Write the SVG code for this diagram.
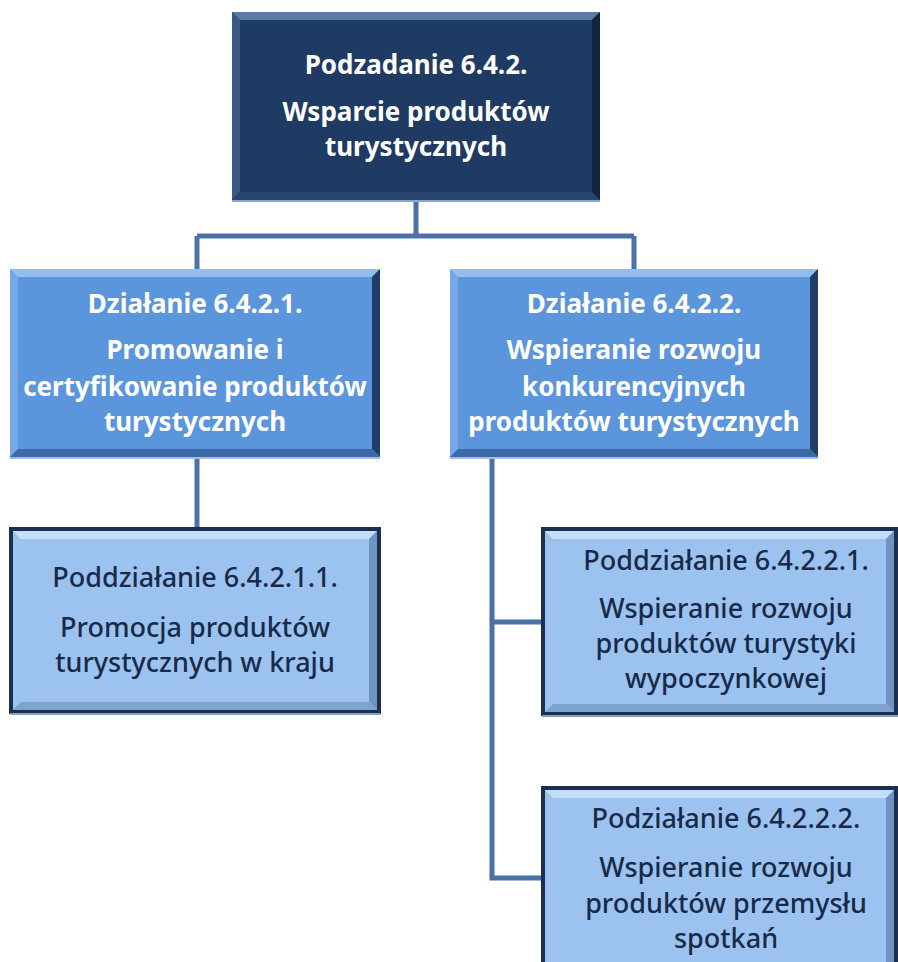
<svg xmlns="http://www.w3.org/2000/svg" width="898" height="962" viewBox="0 0 898 962">
<style>
.conn{fill:none;stroke:#4a72a8;stroke-width:5;stroke-linejoin:miter}
.t{font-family:"Noto Sans","Open Sans","Liberation Sans",sans-serif;text-anchor:middle}
.w{fill:#ffffff;font-weight:bold;font-size:26px}
.d{fill:#182a48;font-size:27px;font-weight:500}
</style>
<rect width="898" height="962" fill="#ffffff"/>
<g id="connectors">
<path class="conn" d="M416,200 V238"/>
<path class="conn" d="M197,236 H634"/>
<path class="conn" d="M197,236 V270"/>
<path class="conn" d="M634,236 V270"/>
<path class="conn" d="M197,457 V528"/>
<path class="conn" d="M492,457 V878 H543"/>
<path class="conn" d="M492,622 H543"/>
</g>
<g id="n1">
<rect x="232" y="12" width="368" height="188" fill="#1f3a63"/>
<polygon points="232,12 600,12 592,20 240,20" fill="#5a7aa8"/>
<polygon points="232,12 240,20 240,192 232,200" fill="#3b5986"/>
<polygon points="600,12 600,200 592,192 592,20" fill="#112440"/>
<polygon points="232,200 600,200 592,192 240,192" fill="#2a4670"/>
<line x1="232" y1="201" x2="600" y2="201" stroke="#8aa6cc" stroke-width="2"/>
<text class="t w" x="416" y="74">Podzadanie 6.4.2.</text>
<text class="t w" x="416" y="121">Wsparcie produktów</text>
<text class="t w" x="416" y="156">turystycznych</text>
</g>
<g id="n2">
<rect x="10" y="269" width="370" height="188" fill="#5b96dc"/>
<polygon points="10,269 380,269 372,277 18,277" fill="#94bdf0"/>
<polygon points="10,269 18,277 18,449 10,457" fill="#76a8e8"/>
<polygon points="380,269 380,457 372,449 372,277" fill="#1f3d66"/>
<polygon points="10,457 380,457 372,449 18,449" fill="#3c6aa4"/>
<line x1="10" y1="458" x2="380" y2="458" stroke="#9cbde6" stroke-width="2"/>
<text class="t w" x="195" y="313">Działanie 6.4.2.1.</text>
<text class="t w" x="195" y="359">Promowanie i</text>
<text class="t w" x="195" y="396">certyfikowanie produktów</text>
<text class="t w" x="195" y="431">turystycznych</text>
</g>
<g id="n3">
<rect x="450" y="269" width="368" height="188" fill="#5b96dc"/>
<polygon points="450,269 818,269 810,277 458,277" fill="#94bdf0"/>
<polygon points="450,269 458,277 458,449 450,457" fill="#76a8e8"/>
<polygon points="818,269 818,457 810,449 810,277" fill="#1f3d66"/>
<polygon points="450,457 818,457 810,449 458,449" fill="#3c6aa4"/>
<line x1="450" y1="458" x2="818" y2="458" stroke="#9cbde6" stroke-width="2"/>
<text class="t w" x="634" y="313">Działanie 6.4.2.2.</text>
<text class="t w" x="634" y="359">Wspieranie rozwoju</text>
<text class="t w" x="634" y="396">konkurencyjnych</text>
<text class="t w" x="634" y="431">produktów turystycznych</text>
</g>
<g id="n4">
<rect x="11" y="529" width="368" height="183" fill="#9cc3f0" stroke="#1c2f4f" stroke-width="4"/>
<polygon points="13,531 377,531 369,539 21,539" fill="#c4def9"/>
<polygon points="377,531 377,710 369,702 369,539" fill="#6f93c2"/>
<polygon points="13,710 377,710 369,702 21,702" fill="#7fa3d0"/>
<line x1="10" y1="714" x2="380" y2="714" stroke="#8aa0bf" stroke-width="2"/>
<text class="t d" x="195" y="587">Poddziałanie 6.4.2.1.1.</text>
<text class="t d" x="195" y="637">Promocja produktów</text>
<text class="t d" x="195" y="672">turystycznych w kraju</text>
</g>
<g id="n5">
<rect x="543" y="529" width="353" height="185" fill="#9cc3f0" stroke="#1c2f4f" stroke-width="4"/>
<polygon points="545,531 894,531 886,539 553,539" fill="#c4def9"/>
<polygon points="894,531 894,712 886,704 886,539" fill="#6f93c2"/>
<polygon points="545,712 894,712 886,704 553,704" fill="#7fa3d0"/>
<line x1="542" y1="716" x2="898" y2="716" stroke="#8aa0bf" stroke-width="2"/>
<text class="t d" x="726" y="570">Poddziałanie 6.4.2.2.1.</text>
<text class="t d" x="726" y="618">Wspieranie rozwoju</text>
<text class="t d" x="726" y="653">produktów turystyki</text>
<text class="t d" x="726" y="688">wypoczynkowej</text>
</g>
<g id="n6">
<rect x="543" y="788" width="353" height="180" fill="#9cc3f0" stroke="#1c2f4f" stroke-width="4"/>
<polygon points="545,790 894,790 886,798 553,798" fill="#c4def9"/>
<polygon points="894,790 894,962 886,962 886,798" fill="#6f93c2"/>
<text class="t d" x="726" y="828">Podziałanie 6.4.2.2.2.</text>
<text class="t d" x="726" y="877">Wspieranie rozwoju</text>
<text class="t d" x="726" y="913">produktów przemysłu</text>
<text class="t d" x="726" y="948">spotkań</text>
</g>
</svg>
